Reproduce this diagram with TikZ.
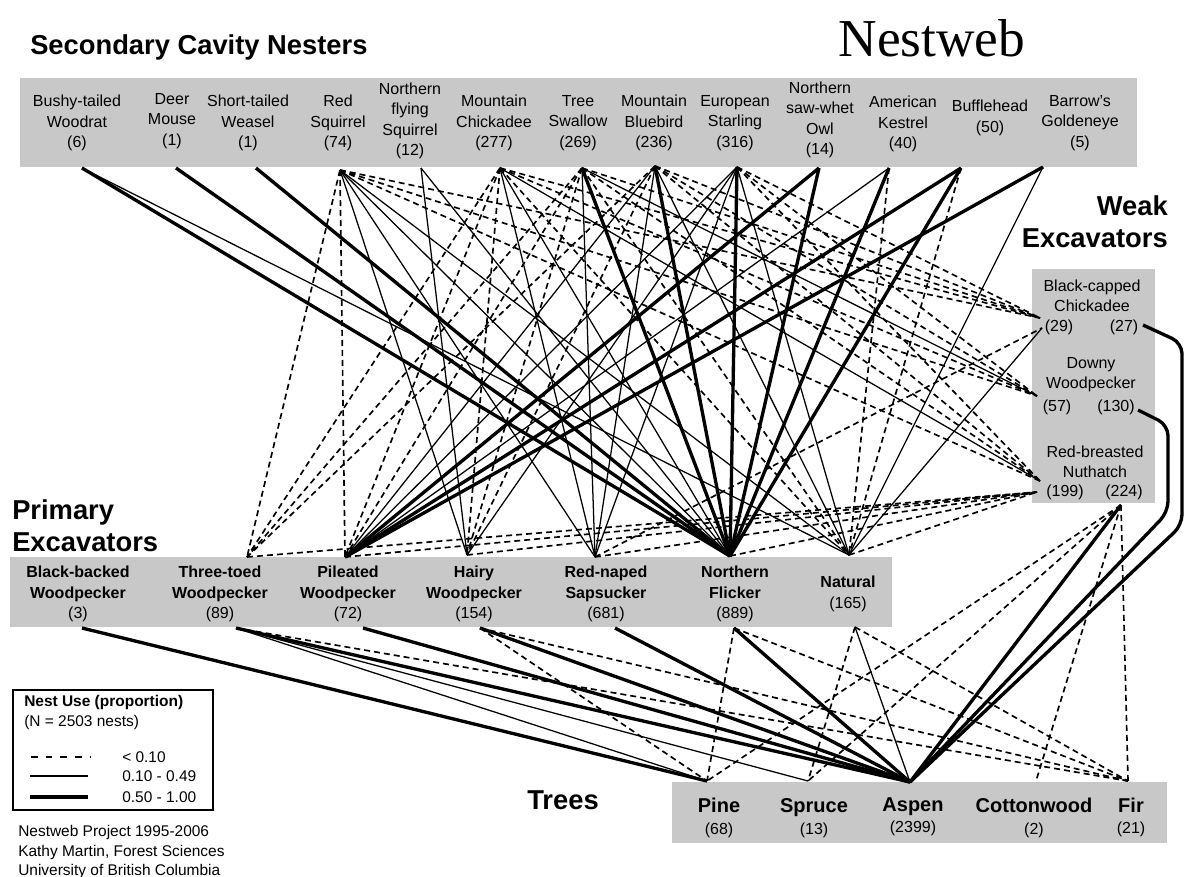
\documentclass[tikz,border=0pt]{standalone}
\usepackage{fontspec}
\setmainfont{Liberation Sans}
\newfontfamily\titleserif{Liberation Serif}
\definecolor{boxgray}{RGB}{200,200,200}
\begin{document}
\begin{tikzpicture}[x=0.75pt,y=-0.75pt,
 dsh/.style={line width=1.25pt,dash pattern=on 4.5pt off 3pt},
 thn/.style={line width=0.95pt},
 thk/.style={line width=2.5pt},
 secl/.style={font=\fontsize{12}{15.3}\selectfont,align=center,inner sep=0pt},
 pril/.style={font=\bfseries\fontsize{12}{15.5}\selectfont,align=center,inner sep=0pt},
 weakl/.style={font=\fontsize{12}{15}\selectfont,align=center,inner sep=0pt},
 treel/.style={font=\bfseries\fontsize{15}{17}\selectfont,inner sep=0pt,anchor=base},
 treen/.style={font=\fontsize{12}{14}\selectfont,inner sep=0pt,anchor=base},
 head/.style={font=\bfseries\fontsize{20.5}{24}\selectfont,inner sep=0pt},
 leg/.style={font=\fontsize{11.6}{13}\selectfont,inner sep=0pt,anchor=west}]

\useasboundingbox (0,0) rectangle (1188,876);
\fill[white] (0,0) rectangle (1188,876);

% ---------- boxes
\fill[boxgray] (20,78) rectangle (1137,167);
\fill[boxgray] (10,557) rectangle (892,627);
\fill[boxgray] (1032,269) rectangle (1155,503);
\fill[boxgray] (672,782) rectangle (1167,843);

% ---------- anchor points
% secondary nesters (bottom of top box)
\coordinate (wr) at (82,168);
\coordinate (dm) at (176,168);
\coordinate (sw) at (256,168);
\coordinate (rs) at (340,170);
\coordinate (nf) at (421,168);
\coordinate (mc) at (500,168);
\coordinate (ts) at (582,168);
\coordinate (mb) at (655,166);
\coordinate (es) at (737,167);
\coordinate (ow) at (819,168);
\coordinate (ak) at (889,168);
\coordinate (bh) at (961,168);
\coordinate (bg) at (1043,167);
% primary excavators, top
\coordinate (tt) at (247,557);
\coordinate (pw) at (345,557);
\coordinate (hw) at (467,555);
\coordinate (rn) at (595,557);
\coordinate (nfl) at (730,556);
\coordinate (nat) at (849,555);
% primary excavators, bottom
\coordinate (bbB) at (82,628);
\coordinate (ttB) at (236,628);
\coordinate (pwB) at (363,628);
\coordinate (hwB) at (480,628);
\coordinate (rnB) at (615,628);
\coordinate (nflB) at (734,628);
\coordinate (natB) at (855,627);
% weak excavators
\coordinate (bccA) at (1040,318);
\coordinate (bccB) at (1042,328);
\coordinate (dwL) at (1037,396);
\coordinate (rbnA) at (1040,481);
\coordinate (rbnB) at (1037,492);
\coordinate (bccR) at (1143,325);
\coordinate (dwR) at (1138,410);
\coordinate (rbnD) at (1121,505);
\coordinate (bccK1) at (1182,343);
\coordinate (bccK2) at (1182,525);
\coordinate (dwK1) at (1168,425);
\coordinate (dwK2) at (1168,512);
% trees
\coordinate (pine) at (707,781);
\coordinate (spruce) at (808,781);
\coordinate (aspen) at (910,782);
\coordinate (cotton) at (1036,781);
\coordinate (fir) at (1128,781);

% ---------- connectors: secondary -> primary / weak
\foreach \a/\b in {rs/tt,rs/pw,rs/bccA,rs/dwL,rs/rbnA,mc/tt,mc/pw,mc/hw,mc/nat,mc/bccA,mc/dwL,
  ts/tt,ts/pw,ts/hw,ts/nat,ts/bccA,ts/rbnA,mb/tt,mb/hw,mb/bccA,mb/dwL,mb/rbnA,
  es/bccA,es/dwL,es/rbnA,ak/nat,bh/nat,
  tt/rbnB,pw/rbnB,hw/rbnB,rn/rbnB,nfl/rbnB,nat/rbnB,rn/bccB}
  \draw[dsh] (\a) -- (\b);
\foreach \a/\b in {wr/nat,rs/hw,rs/rn,rs/nfl,rs/nat,nf/hw,nf/nfl,mc/rn,mc/nfl,mc/rbnA,
  ts/rn,ts/dwL,mb/pw,mb/rn,mb/nat,es/pw,es/hw,es/rn,es/nat,bg/nat,ak/pw,nat/bccB}
  \draw[thn] (\a) -- (\b);
\foreach \a/\b in {wr/nfl,dm/nfl,sw/nfl,ts/nfl,mb/nfl,es/nfl,ow/nfl,ak/nfl,bh/nfl,ow/pw,bh/pw,bg/pw}
  \draw[thk] (\a) -- (\b);

% ---------- connectors: excavators -> trees
\foreach \a/\b in {ttB/fir,hwB/pine,hwB/fir,nflB/pine,nflB/fir,natB/spruce,natB/fir,
  rbnD/pine,rbnD/spruce,rbnD/cotton,rbnD/fir}
  \draw[dsh] (\a) -- (\b);
\foreach \a/\b in {ttB/pine,ttB/spruce,natB/aspen}
  \draw[thn] (\a) -- (\b);
\foreach \a/\b in {bbB/pine,ttB/aspen,pwB/aspen,hwB/aspen,rnB/aspen,nflB/aspen,rbnD/aspen}
  \draw[thk] (\a) -- (\b);
\draw[thk,rounded corners=8pt] (bccR) -- (bccK1) -- (bccK2) -- (aspen);
\draw[thk,rounded corners=8pt] (dwR) -- (dwK1) -- (dwK2) -- (aspen);

% ---------- labels: secondary cavity nesters
\node[secl] (Lwr) at (77,123) {Bushy-tailed\\Woodrat\\(6)};
\node[secl] (Ldm) at (172,121) {Deer\\Mouse\\(1)};
\node[secl] (Lsw) at (248,123) {Short-tailed\\Weasel\\(1)};
\node[secl] (Lrs) at (338,123) {Red\\Squirrel\\(74)};
\node[secl] (Lnf) at (410,121) {Northern\\flying\\Squirrel\\(12)};
\node[secl] (Lmc) at (494,123) {Mountain\\Chickadee\\(277)};
\node[secl] (Lts) at (578,123) {Tree\\Swallow\\(269)};
\node[secl] (Lmb) at (654,123) {Mountain\\Bluebird\\(236)};
\node[secl] (Les) at (735,123) {European\\Starling\\(316)};
\node[secl] (Low) at (820,120) {Northern\\saw-whet\\Owl\\(14)};
\node[secl] (Lak) at (903,124) {American\\Kestrel\\(40)};
\node[secl] (Lbh) at (990,118) {Bufflehead\\(50)};
\node[secl] (Lbg) at (1080,123) {Barrow's\\Goldeneye\\(5)};

% ---------- labels: primary excavators
\node[pril] (Lbb) at (78,594) {Black-backed\\Woodpecker\\{\mdseries (3)}};
\node[pril] (Ltt) at (220,594) {Three-toed\\Woodpecker\\{\mdseries (89)}};
\node[pril] (Lpw) at (348,594) {Pileated\\Woodpecker\\{\mdseries (72)}};
\node[pril] (Lhw) at (474,594) {Hairy\\Woodpecker\\{\mdseries (154)}};
\node[pril] (Lrn) at (606,594) {Red-naped\\Sapsucker\\{\mdseries (681)}};
\node[pril] (Lnfl) at (735,594) {Northern\\Flicker\\{\mdseries (889)}};
\node[pril] (Lnat) at (848,594) {Natural\\{\mdseries (165)}};

% ---------- labels: weak excavators
\node[weakl] (Lbcc) at (1092,296) {Black-capped\\Chickadee};
\node[weakl] (Lbcc1) at (1059,327) {(29)};
\node[weakl] (Lbcc2) at (1124,327) {(27)};
\node[weakl] (Ldw) at (1091,375) {Downy\\Woodpecker};
\node[weakl] (Ldw1) at (1057,407) {(57)};
\node[weakl] (Ldw2) at (1116,407) {(130)};
\node[weakl] (Lrbn) at (1095,462) {Red-breasted\\Nuthatch};
\node[weakl] (Lrbn1) at (1065,492) {(199)};
\node[weakl] (Lrbn2) at (1124,492) {(224)};

% ---------- labels: trees
\node[treel] (Lpine) at (719,812) {Pine};
\node[treen] (Npine) at (719,834) {(68)};
\node[treel] (Lspruce) at (814,812) {Spruce};
\node[treen] (Nspruce) at (814,834) {(13)};
\node[treel] (Laspen) at (913,811) {Aspen};
\node[treen] (Naspen) at (913,832) {(2399)};
\node[treel] (Lcotton) at (1034,812) {Cottonwood};
\node[treen] (Ncotton) at (1034,834) {(2)};
\node[treel] (Lfir) at (1131,812) {Fir};
\node[treen] (Nfir) at (1131,833) {(21)};

% ---------- headings
\node[font=\titleserif\fontsize{40}{44}\selectfont,inner sep=0pt] (title) at (932,38) {Nestweb};
\node[head,anchor=west] (hsec) at (30,47) {Secondary Cavity Nesters};
\node[head,anchor=west] (hpri1) at (12,512) {Primary};
\node[head,anchor=west] (hpri2) at (12,542) {Excavators};
\node[head,anchor=east] (hweak1) at (1168,206) {Weak};
\node[head,anchor=east] (hweak2) at (1168,238) {Excavators};
\node[head] (htrees) at (563,800) {Trees};

% ---------- legend
\draw[line width=0.9pt] (13,690) rectangle (213,810);
\node[leg,font=\bfseries\fontsize{11.6}{13}\selectfont] (legt) at (24,702) {Nest Use (proportion)};
\node[leg] (legn) at (24,722) {(N = 2503 nests)};
\draw[line width=1.3pt,dash pattern=on 5pt off 6pt] (31,757) -- (90,757);
\draw[line width=0.8pt] (30,776) -- (88,776);
\draw[line width=2.4pt] (30,797) -- (88,797);
\node[leg] (leg1) at (122,757) {< 0.10};
\node[leg] (leg2) at (122,776) {0.10 - 0.49};
\node[leg] (leg3) at (122,797) {0.50 - 1.00};
\node[leg] (ft1) at (18,832) {Nestweb Project 1995-2006};
\node[leg] (ft2) at (18,852) {Kathy Martin, Forest Sciences};
\node[leg] (ft3) at (18,871) {University of British Columbia};
\end{tikzpicture}
\end{document}
